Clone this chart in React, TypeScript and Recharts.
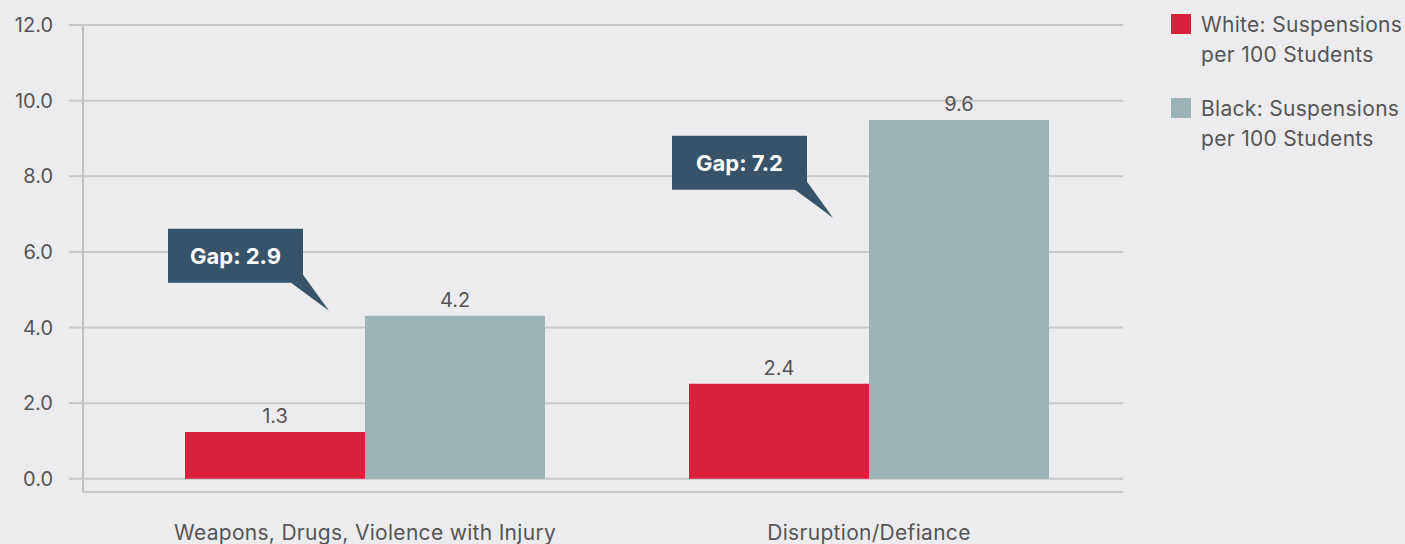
import React from 'react';
import {
    BarChart, Bar, XAxis, YAxis, CartesianGrid, LabelList, ReferenceDot
} from 'recharts';

const categories = ['Weapons, Drugs, Violence with Injury', 'Disruption/Defiance'];
const whiteValues = [1.24, 2.51];
const blackValues = [4.31, 9.49];
const whiteLabels = ['1.3', '2.4'];
const blackLabels = ['4.2', '9.6'];
const gapTexts = ['Gap: 2.9', 'Gap: 7.2'];
const gapAnchors = [4.44, 6.9];
const yTicks = [0, 2, 4, 6, 8, 10, 12];

const seriesNames = ['White: Suspensions per 100 Students', 'Black: Suspensions per 100 Students'];

const RED = '#d91f3a';
const GREY = '#9bb2b7';
const SLATE = '#36536a';
const TEXT = '#555555';
const FONT = 'Inter, sans-serif';

const data = categories.map((name, i) => ({
    name,
    white: whiteValues[i],
    black: blackValues[i],
    whiteLabel: whiteLabels[i],
    blackLabel: blackLabels[i],
}));

// speech-bubble callout, tip sits at (cx - 36, cy)
const Callout = (props: any) => {
    const { cx, cy, text } = props;
    const tx = cx - 36;
    const ty = cy;
    const left = tx - 161;
    const right = tx - 26;
    const top = ty - 82;
    const bottom = ty - 28;
    const pts = [
        [left, top], [right, top], [right, ty - 36], [tx, ty], [tx - 38, bottom], [left, bottom],
    ].map(p => p.join(',')).join(' ');
    return (
        <g>
            <polygon points={pts} fill={SLATE} />
            <text x={(left + right) / 2} y={(top + bottom) / 2 + 8} textAnchor="middle"
                fill="#ffffff" fontSize={22} fontWeight={700} fontFamily={FONT}>
                {text}
            </text>
        </g>
    );
};

const ChartLegend = () => {
    const colors = [RED, GREY];
    return (
        <div style={{
            position: 'absolute', left: 1171, top: 10, fontFamily: FONT, fontSize: 21,
            letterSpacing: 0.3, color: TEXT, lineHeight: '30px',
        }}>
            {seriesNames.map((s, i) => {
                const [first, ...rest] = s.split(' per ');
                return (
                    <div key={s} style={{ display: 'flex', marginBottom: i === 0 ? 24 : 0 }}>
                        <div style={{ width: 20, height: 20, background: colors[i], marginTop: 4, marginRight: 10 }} />
                        <div style={{ whiteSpace: 'nowrap' }}>
                            <div>{first}</div>
                            <div>per {rest.join(' per ')}</div>
                        </div>
                    </div>
                );
            })}
        </div>
    );
};

const App: React.FC = () => {
    return (
        <div style={{ position: 'absolute', left: 0, top: 0, width: 1405, height: 544, background: '#ececee', overflow: 'hidden' }}>
            <BarChart width={1405} height={544} data={data} barGap={0} barSize={180}
                margin={{ top: 25, right: 282, left: 0, bottom: 0 }}>
                <CartesianGrid vertical={false} stroke="#c8c8c8" strokeWidth={2} />
                <XAxis dataKey="name" height={52} axisLine={false} tickLine={false}
                    tickSize={0} tickMargin={33} padding={{ left: 30, right: 2 }}
                    tick={{ fill: TEXT, fontSize: 21, fontFamily: FONT, letterSpacing: 0.3 }} interval={0} />
                <YAxis width={83} domain={[-0.35, 12]} ticks={yTicks} allowDataOverflow
                    tickFormatter={(v: number) => v.toFixed(1)}
                    axisLine={{ stroke: '#c0c0c0', strokeWidth: 2 }}
                    tickLine={{ stroke: '#c8c8c8', strokeWidth: 2 }} tickSize={14} tickMargin={16}
                    tick={{ fill: TEXT, fontSize: 20, fontFamily: FONT }} />
                <Bar dataKey="white" fill={RED} isAnimationActive={false} name={seriesNames[0]}>
                    <LabelList dataKey="whiteLabel" position="top" offset={9}
                        fill={TEXT} fontSize={20} fontFamily={FONT} />
                </Bar>
                <Bar dataKey="black" fill={GREY} isAnimationActive={false} name={seriesNames[1]}>
                    <LabelList dataKey="blackLabel" position="top" offset={9}
                        fill={TEXT} fontSize={20} fontFamily={FONT} />
                </Bar>
                {categories.map((c, i) => (
                    <ReferenceDot key={c} x={c} y={gapAnchors[i]} ifOverflow="visible"
                        shape={(p: any) => <Callout {...p} text={gapTexts[i]} />} />
                ))}
            </BarChart>
            <ChartLegend />
        </div>
    );
};

export default App;
